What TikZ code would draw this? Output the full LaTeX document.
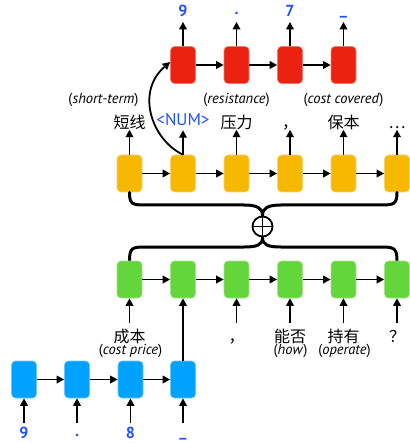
\documentclass[tikz,border=0pt]{standalone}
\usepackage{fontspec}
\setmainfont{PT Sans}
\newfontfamily\zh{Noto Sans CJK SC}
\usetikzlibrary{arrows.meta}
\definecolor{cred}{RGB}{235,34,16}
\definecolor{cyel}{RGB}{246,184,0}
\definecolor{cgrn}{RGB}{98,214,58}
\definecolor{cblu}{RGB}{0,162,255}
\definecolor{tblu}{RGB}{30,80,255}
\tikzset{
  cell/.style={rounded corners=4pt, minimum width=25pt, minimum height=37pt, inner sep=0pt, line width=0.6pt},
  redcell/.style={cell, fill=cred, draw=cred!60!white},
  yelcell/.style={cell, fill=cyel, draw=cyel!60!white},
  grncell/.style={cell, fill=cgrn, draw=cgrn!60!white},
  blucell/.style={cell, fill=cblu, draw=cblu!60!white},
  arr/.style={line width=1.8pt, -{Triangle[length=7.5pt,width=7.5pt]}},
  brace/.style={line width=3pt, line cap=round},
  outlab/.style={anchor=base, inner sep=0pt, text depth=5pt, font=\fontsize{16}{18}\selectfont\bfseries, text=tblu},
  inlab/.style={anchor=base, inner sep=0pt, text height=15pt, font=\fontsize{16}{18}\selectfont\bfseries, text=tblu},
  yzh/.style={anchor=base, inner sep=0pt, text depth=0.5pt, font=\fontsize{16}{18}\selectfont\zh},
  gzh/.style={anchor=base, inner sep=0pt, text height=19pt, font=\fontsize{16}{18}\selectfont\zh},
  gloss/.style={anchor=base, inner sep=0pt, font=\fontsize{14.5}{16}\selectfont},
}
\begin{document}
\begin{tikzpicture}[x=1pt,y=-1pt]
\useasboundingbox (0,0) rectangle (409,443);
% columns
\def\ca{129.5}\def\cb{183}\def\cc{236.5}\def\cd{290}\def\ce{343.5}\def\cf{397}
% red row
\node[redcell] (r1) at (\cb,65) {};
\node[redcell] (r2) at (\cc,65) {};
\node[redcell] (r3) at (\cd,65) {};
\node[redcell] (r4) at (\ce,65) {};
\node[outlab] (o1) at (\cb,16.7) {9};
\node[outlab] (o2) at (\cc,16.7) {\raisebox{2pt}{.}};
\node[outlab] (o3) at (\cd,16.7) {7};
\node[outlab] (o4) at (\ce,16.7) {\raisebox{2.5pt}{\_}};
\foreach \i in {1,...,4} \draw[arr] (r\i.north) -- (o\i.south);
\draw[arr] (r1.east) -- (r2.west);
\draw[arr] (r2.east) -- (r3.west);
\draw[arr] (r3.east) -- (r4.west);
% yellow row
\node[yelcell] (y1) at (\ca,173.5) {};
\node[yelcell] (y2) at (\cb,173.5) {};
\node[yelcell] (y3) at (\cc,173.5) {};
\node[yelcell] (y4) at (\cd,173.5) {};
\node[yelcell] (y5) at (\ce,173.5) {};
\node[yelcell] (y6) at (\cf,173.5) {};
\draw[arr] (y1.east) -- (y2.west);
\draw[arr] (y2.east) -- (y3.west);
\draw[arr] (y3.east) -- (y4.west);
\draw[arr] (y4.east) -- (y5.west);
\draw[arr] (y5.east) -- (y6.west);
\node[yzh] (w1) at (\ca,129) {短线};
\node[anchor=base, inner sep=0pt, text depth=4.5pt, font=\fontsize{17}{19}\selectfont, text=tblu] (w2) at (\cb,125.5) {<NUM>};
\node[yzh] (w3) at (\cc,129) {压力};
\node[yzh] (w4) at (\cd,129) {，};
\node[yzh] (w5) at (\ce,129) {保本};
\node[yzh] (w6) at (\cf,129) {…};
\foreach \i in {1,...,6} \draw[arr] (y\i.north) -- (w\i.south);
\node[gloss] (e1) at (103.5,104) {(\textit{short-term})};
\node[gloss] (e3) at (\cc,104) {(\textit{resistance})};
\node[gloss] (e5) at (\ce,104) {(\textit{cost covered})};
\draw[arr] (y2.north) .. controls (152,140) and (135,92) .. ([yshift=3pt]r1.west);
% combine
\node[circle, draw, line width=1.8pt, minimum size=20pt, inner sep=0pt] (plus) at (262.5,226.5) {};
\draw[line width=1.8pt] (plus.north) -- (plus.south) (plus.west) -- (plus.east);
\draw[brace] (y1.south) .. controls (\ca,204) and (132,205) .. (145,205) -- (244,205)
  .. controls (257,205) and (262.5,208) .. (plus.north);
\draw[brace] (y6.south) .. controls (\cf,204) and (394,205) .. (381,205) -- (281,205)
  .. controls (268,205) and (262.5,208) .. (plus.north);
\draw[brace] (plus.south) .. controls (262.5,245) and (257,247) .. (244,247) -- (145,247)
  .. controls (132,247) and (\ca,248) .. (\ca,261);
\draw[brace] (plus.south) .. controls (262.5,245) and (268,247) .. (281,247) -- (381,247)
  .. controls (394,247) and (\cf,248) .. (\cf,261);
% green row
\node[grncell] (g1) at (\ca,279.5) {};
\node[grncell] (g2) at (\cb,279.5) {};
\node[grncell] (g3) at (\cc,279.5) {};
\node[grncell] (g4) at (\cd,279.5) {};
\node[grncell] (g5) at (\ce,279.5) {};
\node[grncell] (g6) at (\cf,279.5) {};
\draw[arr] (g1.east) -- (g2.west);
\draw[arr] (g2.east) -- (g3.west);
\draw[arr] (g3.east) -- (g4.west);
\draw[arr] (g4.east) -- (g5.west);
\draw[arr] (g5.east) -- (g6.west);
\node[gzh] (v1) at (\ca,342.5) {成本};
\node[gzh] (v3) at (\cc,342.5) {，};
\node[gzh] (v4) at (\cd,342.5) {能否};
\node[gzh] (v5) at (\ce,342.5) {持有};
\node[gzh] (v6) at (\cf,342.5) {？};
\foreach \i in {1,3,4,5,6} \draw[arr] (v\i.north) -- (g\i.south);
\node[gloss] (f1) at (130.5,354.5) {(\textit{cost price})};
\node[gloss] (f4) at (290.5,354.5) {(\textit{how})};
\node[gloss] (f5) at (344.5,354.5) {(\textit{operate})};
% blue row
\node[blucell] (b1) at (24,379.5) {};
\node[blucell] (b2) at (77,379.5) {};
\node[blucell] (b3) at (130.5,379.5) {};
\node[blucell] (b4) at (\cb,379.5) {};
\draw[arr] (b1.east) -- (b2.west);
\draw[arr] (b2.east) -- (b3.west);
\draw[arr] (b3.east) -- (b4.west);
\draw[arr] (b4.north) -- (g2.south);
\node[inlab] (i1) at (24,438) {9};
\node[inlab] (i2) at (77,438) {\raisebox{2pt}{.}};
\node[inlab] (i3) at (130.5,438) {8};
\node[inlab] (i4) at (\cb,438) {\raisebox{2pt}{\_}};
\foreach \i in {1,...,4} \draw[arr] (i\i.north) -- (b\i.south);
\end{tikzpicture}
\end{document}
